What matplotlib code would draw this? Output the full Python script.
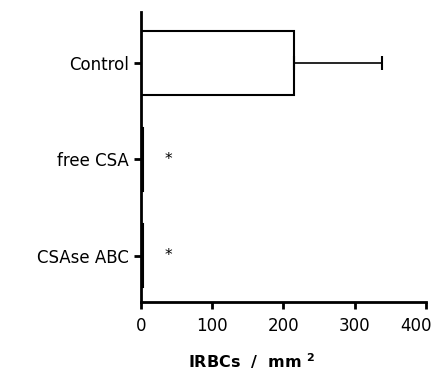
import matplotlib
matplotlib.use("Agg")
import matplotlib.pyplot as plt
from matplotlib.transforms import ScaledTranslation

# data
categories = ["Control", "free CSA", "CSAse ABC"]
values = [215, 3, 3]
errors = [123, 0, 0]
stars = [False, True, True]
star_x = 38
x_ticks = [0, 100, 200, 300, 400]

plt.rcParams['font.family'] = ['DejaVu Sans']
plt.rcParams['mathtext.fontset'] = 'dejavusans'

fig = plt.figure(figsize=(4.4, 3.75), dpi=100)
ax = fig.add_axes([0.3205, 0.195, 0.6475, 0.773])

pos = [2, 1, 0]
ax.barh(pos, values, height=0.66, color="white", edgecolor="black", linewidth=1.5)
for p, v, e in zip(pos, values, errors):
    if e > 0:
        ax.errorbar(v + e / 2, p, xerr=e / 2, fmt="none", ecolor="black",
                    elinewidth=1.2, capsize=5, capthick=1.5)
for p, s in zip(pos, stars):
    if s:
        ax.text(star_x, p, "*", ha="center", va="center", fontsize=11)

ax.set_xlim(0, 400)
ax.set_ylim(-0.48, 2.53)
ax.set_xticks(x_ticks)
ax.set_yticks(pos)
ax.set_yticklabels(categories)
ax.spines["top"].set_visible(False)
ax.spines["right"].set_visible(False)
for sp in ("left", "bottom"):
    ax.spines[sp].set_linewidth(2)
ax.tick_params(axis="both", direction="out", length=5, width=2, labelsize=12)
ax.tick_params(axis="x", pad=6)

# last tick label sits a little left so it stays inside the figure
last = ax.get_xticklabels()[-1]
last.set_transform(last.get_transform() + ScaledTranslation(-7 / 72, 0, fig.dpi_scale_trans))

ax.set_xlabel("IRBCs  /  mm $^{\\mathbf{2}}$", fontsize=11.5, fontweight="bold")
ax.xaxis.set_label_coords(0.39, -0.17)

fig.savefig("out.png", dpi=100)
